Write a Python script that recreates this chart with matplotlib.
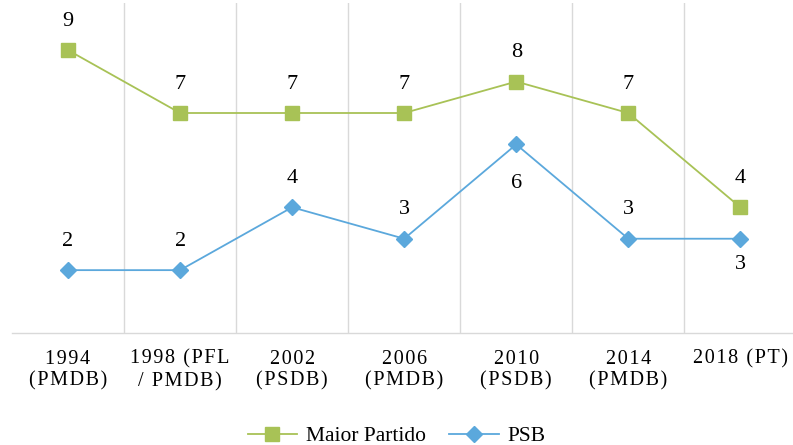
import matplotlib.pyplot as plt
from matplotlib.ticker import FixedLocator

plt.rcParams['font.family'] = ['Liberation Serif', 'DejaVu Serif']

# Data
categories = ['1994\n(PMDB)', '1998 (PFL\n/ PMDB)', '2002\n(PSDB)', '2006\n(PMDB)',
              '2010\n(PSDB)', '2014\n(PMDB)', '2018 (PT)']
maior_partido = [9, 7, 7, 7, 8, 7, 4]
psb = [2, 2, 4, 3, 6, 3, 3]
# label offsets for PSB in points (positive = above)
psb_offset = [14, 14, 14, 14, -21, 14, -12]

green = '#A8C256'
blue = '#5BA8DC'

def spaced(s):
    # imitate letter spacing with hair spaces
    return '\n'.join('\u200a'.join(line) for line in s.split('\n'))

fig = plt.figure(figsize=(7.93, 4.45), dpi=100)
ax = fig.add_axes([12 / 793, 112 / 445, 781 / 793, 330 / 445])

x = list(range(len(categories)))
ax.plot(x, maior_partido, color=green, marker='s', markersize=10, linewidth=1.3,
        label='Maior Partido')
ax.plot(x, psb, color=blue, marker='D', markersize=8, linewidth=1.3, label='PSB')

for i, v in enumerate(maior_partido):
    ax.annotate(str(v), (i, v), xytext=(0, 14), textcoords='offset points',
                ha='center', va='bottom', fontsize=16)
for i, v in enumerate(psb):
    off = psb_offset[i]
    ax.annotate(str(v), (i, v), xytext=(0, off), textcoords='offset points',
                ha='center', va='bottom' if off > 0 else 'top', fontsize=16)

ax.set_xlim(-0.5, 6.47)
ax.set_ylim(0, 10.5)
ax.set_xticks(x)
ax.set_xticklabels([spaced(c) for c in categories], fontsize=14.5, linespacing=1.2)
ax.tick_params(axis='x', which='major', length=0, pad=12)
ax.xaxis.set_minor_locator(FixedLocator([i + 0.5 for i in range(len(categories) - 1)]))
ax.tick_params(axis='x', which='minor', length=0)
ax.grid(which='minor', axis='x', color='#d9d9d9', linewidth=1)
ax.set_yticks([])

for s in ['top', 'right', 'left']:
    ax.spines[s].set_visible(False)
ax.spines['bottom'].set_color('#d9d9d9')
ax.spines['bottom'].set_linewidth(1)

fig.legend(loc='center', bbox_to_anchor=(0.5, 9 / 445), ncol=2, frameon=False,
           fontsize=15.5, handlelength=2.3, columnspacing=1.1, handletextpad=0.4,
           borderpad=0)

fig.savefig('out.png', dpi=100)
